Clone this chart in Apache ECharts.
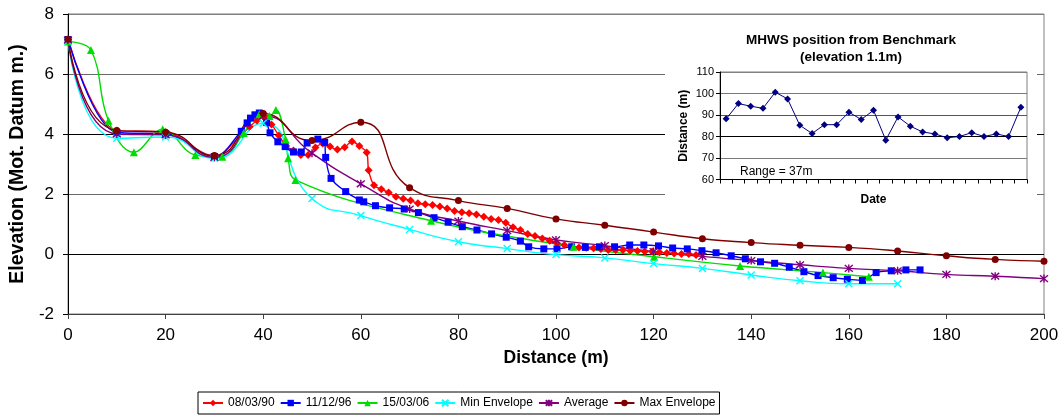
<!DOCTYPE html>
<html><head><meta charset="utf-8">
<script src="https://cdn.jsdelivr.net/npm/echarts@6/dist/echarts.min.js"></script>
<style>html,body{margin:0;padding:0;background:#fff}#c{width:1064px;height:419px}</style>
</head><body><div id="c"></div>
<script>
// ---- main chart data (distance m, elevation m) ----
const xTicks = [0, 20, 40, 60, 80, 100, 120, 140, 160, 180, 200];
const yTicks = [-2, 0, 2, 4, 6, 8];
const seriesNames = ['08/03/90', '11/12/96', '15/03/06', 'Min Envelope', 'Average', 'Max Envelope'];

const profile900803 = [[0,7.15],[10,4.12],[20,4.06],[30,3.27],[35.7,4.0],[37.2,4.24],[38.7,4.45],[40.2,4.55],[41.7,4.32],[43.2,3.95],[44.7,3.6],[46.2,3.45],[47.7,3.3],[49.2,3.3],[50.7,3.55],[52.2,3.68],[53.7,3.58],[55.2,3.48],[56.7,3.56],[58.2,3.75],[59.7,3.6],[61.2,3.38],[61.6,2.79],[62.7,2.29],[64.2,2.16],[65.7,2.05],[67.2,1.91],[68.7,1.84],[70.2,1.78],[71.7,1.69],[73.2,1.66],[74.7,1.63],[76.2,1.58],[77.7,1.52],[79.2,1.43],[80.7,1.39],[82.2,1.36],[83.7,1.32],[85.2,1.24],[86.7,1.17],[88.2,1.13],[89.7,1.04],[91.2,0.89],[92.7,0.8],[94.2,0.67],[95.7,0.6],[97.2,0.52],[98.7,0.44],[100.2,0.36],[101.7,0.3],[103.2,0.24],[104.7,0.22],[106.2,0.21],[107.7,0.19],[109.2,0.17],[110.7,0.13],[112.2,0.13],[113.7,0.13],[115.2,0.11],[116.7,0.10],[118.2,0.08],[119.7,0.08],[121.2,0.06],[122.7,0.03],[124.2,0.02],[125.7,0.0],[127.2,0.0],[128.7,-0.03]];

const profile961211 = [[0,7.15],[10,4.05],[20,4.0],[30,3.25],[35.5,4.09],[36.7,4.37],[37.4,4.53],[38.3,4.64],[39.2,4.7],[40.7,4.38],[41.4,4.04],[43.0,3.74],[44.5,3.58],[46.2,3.4],[47.8,3.4],[49.0,3.7],[51.2,3.83],[52.6,3.72],[52.8,3.22],[53.9,2.52],[56.9,2.08],[59.7,1.8],[60.6,1.74],[63.0,1.61],[65.9,1.54],[68.9,1.5],[71.8,1.38],[75.0,1.21],[77.9,1.06],[80.8,0.91],[83.8,0.8],[86.8,0.67],[89.8,0.56],[92.7,0.43],[94.4,0.24],[97.5,0.17],[100.2,0.17],[103.2,0.24],[106.0,0.22],[108.9,0.24],[112.0,0.24],[115.1,0.3],[118.0,0.3],[121.0,0.27],[123.9,0.2],[126.9,0.17],[129.9,0.11],[132.8,0.04],[135.9,-0.06],[138.8,-0.16],[141.9,-0.26],[144.8,-0.31],[147.8,-0.44],[150.8,-0.59],[153.7,-0.72],[156.8,-0.79],[159.7,-0.84],[162.8,-0.88],[165.6,-0.62],[168.7,-0.56],[171.7,-0.53],[174.6,-0.53]];

const profile060315 = [[0,7.08],[4.7,6.8],[8.3,4.44],[13.5,3.39],[19.4,4.16],[26.1,3.3],[31.6,3.24],[36.0,4.03],[39.2,4.66],[41.3,4.6],[42.6,4.8],[44.6,3.82],[45.1,3.19],[46.6,2.47],[74.4,1.11],[103.6,0.24],[120.1,-0.09],[137.7,-0.4],[154.7,-0.62],[164.1,-0.76]];

const envelopeX = [0,10,20,30,40,50,60,70,80,90,100,110,120,130,140,150,160,170,180,190,200];
const minEnvelope = [7.1,3.86,3.9,3.19,4.36,1.85,1.28,0.82,0.41,0.18,-0.02,-0.13,-0.32,-0.48,-0.7,-0.89,-0.99,-0.99];
const averageProfile = [7.13,4.0,3.97,3.22,4.6,3.36,2.34,1.5,1.1,0.78,0.47,0.28,0.08,-0.08,-0.22,-0.36,-0.48,-0.56,-0.68,-0.74,-0.82];
const maxEnvelope = [7.16,4.12,4.06,3.28,4.68,3.78,4.39,2.21,1.78,1.52,1.17,0.96,0.73,0.51,0.38,0.29,0.22,0.10,-0.06,-0.18,-0.24];

// ---- inset data: MHWS position from benchmark ----
const mhwsSurveys = ['S1','S2','S3','S4','S5','S6','S7','S8','S9','S10','S11','S12','S13','S14','S15','S16','S17','S18','S19','S20','S21','S22','S23','S24','S25'];
const mhwsDistance = [88.2,95.3,94.1,93.1,100.6,97.5,85.2,81.4,85.5,85.5,91.3,87.9,92.2,78.3,89.1,84.8,82.1,81.2,79.4,80.0,81.8,80.0,81.2,80.0,93.6];
const insetTicks = [60, 70, 80, 90, 100, 110];

const zipXY = (xs, ys) => ys.map((y, i) => [xs[i], y]);

const FONT = 'Liberation Sans, Arial, sans-serif';
const crossPath = 'path://M0,0L10,10M10,0L0,10';
const starPath = 'path://M0,0L10,10M10,0L0,10M5,-1L5,11';

function lineSeries(name, data, color, symbol, size, smooth, extra) {
  return Object.assign({
    name, type: 'line', data, xAxisIndex: 0, yAxisIndex: 0,
    smooth, color,
    symbol, symbolSize: size,
    lineStyle: { color, width: 1.4 },
    itemStyle: { color, borderColor: color, borderWidth: 0 },
    emphasis: { disabled: true }
  }, extra || {});
}

const chart = echarts.init(document.getElementById('c'), null, { renderer: 'canvas' });
chart.setOption({
  animation: false,
  backgroundColor: '#fff',
  grid: [
    { left: 66, top: 14, right: 20, bottom: 105, show: true, borderColor: '#808080', borderWidth: 1, z: 0 },
    { left: 720, top: 72, width: 307, height: 107.5, show: true, borderColor: '#808080', borderWidth: 1, z: 10 }
  ],
  xAxis: [
    { type: 'value', gridIndex: 0, min: xTicks[0], max: xTicks[xTicks.length - 1], interval: xTicks[1] - xTicks[0],
      name: 'Distance (m)', nameLocation: 'middle', nameGap: 32,
      nameTextStyle: { fontFamily: FONT, fontSize: 17.5, fontWeight: 'bold', color: '#000' },
      axisLine: { show: true, onZero: false, lineStyle: { color: '#404040', width: 1 } },
      axisTick: { show: true, length: 5, lineStyle: { color: '#404040' } },
      axisLabel: { fontFamily: FONT, fontSize: 17, color: '#000', margin: 13 },
      splitLine: { show: false } },
    { type: 'category', gridIndex: 1, data: mhwsSurveys, boundaryGap: true, z: 10,
      name: 'Date', nameLocation: 'middle', nameGap: 14,
      nameTextStyle: { fontFamily: FONT, fontSize: 12, fontWeight: 'bold', color: '#000' },
      axisLine: { show: true, lineStyle: { color: '#000', width: 1 } },
      axisTick: { show: true, length: 4, interval: 0, lineStyle: { color: '#000' } },
      axisLabel: { show: false },
      splitLine: { show: false } }
  ],
  yAxis: [
    { type: 'value', gridIndex: 0, min: yTicks[0], max: yTicks[yTicks.length - 1], interval: yTicks[1] - yTicks[0],
      name: 'Elevation (Mot. Datum m.)', nameLocation: 'middle', nameGap: 36,
      nameTextStyle: { fontFamily: FONT, fontSize: 19.5, fontWeight: 'bold', color: '#000' },
      axisLine: { show: true, onZero: false, lineStyle: { color: '#000', width: 1 } },
      axisTick: { show: true, length: 5, lineStyle: { color: '#000' } },
      axisLabel: { fontFamily: FONT, fontSize: 17, color: '#000', margin: 14 },
      splitLine: { show: true, lineStyle: { color: ['#404040', '#000', '#6a6a6a', '#000', '#6a6a6a', '#808080'], width: 1 } } },
    { type: 'value', gridIndex: 1, min: insetTicks[0], max: insetTicks[insetTicks.length - 1], interval: insetTicks[1] - insetTicks[0], z: 10,
      name: 'Distance (m)', nameLocation: 'middle', nameGap: 30,
      nameTextStyle: { fontFamily: FONT, fontSize: 12, fontWeight: 'bold', color: '#000' },
      axisLine: { show: true, lineStyle: { color: '#000', width: 1 } },
      axisTick: { show: true, length: 4, lineStyle: { color: '#000' } },
      axisLabel: { fontFamily: FONT, fontSize: 11, color: '#000', margin: 6 },
      splitLine: { show: true, lineStyle: { color: ['#000', '#7a7a7a', '#000', '#555', '#7a7a7a', '#808080'], width: 1 } } }
  ],
  legend: {
    left: 198, top: 392, orient: 'horizontal',
    padding: [5, 4, 5, 4], itemGap: 5, itemWidth: 20, itemHeight: 8,
    borderColor: '#000', borderWidth: 1,
    textStyle: { fontFamily: FONT, fontSize: 12, color: '#000' },
    data: seriesNames
  },
  graphic: [
    { type: 'rect', z: 5, silent: true, shape: { x: 665, y: 22, width: 372, height: 190 }, style: { fill: '#fff' } },
    { type: 'text', z: 20, silent: true, x: 851, y: 40,
      style: { text: 'MHWS position from Benchmark', fontFamily: FONT, fontSize: 13.5, fontWeight: 'bold', fill: '#000', textAlign: 'center', textVerticalAlign: 'middle' } },
    { type: 'text', z: 20, silent: true, x: 851, y: 57,
      style: { text: '(elevation 1.1m)', fontFamily: FONT, fontSize: 13.5, fontWeight: 'bold', fill: '#000', textAlign: 'center', textVerticalAlign: 'middle' } },
    { type: 'text', z: 20, silent: true, x: 740, y: 172,
      style: { text: 'Range = 37m', fontFamily: FONT, fontSize: 12, fill: '#000', textAlign: 'left', textVerticalAlign: 'middle' } }
  ],
  series: [
    lineSeries(seriesNames[0], profile900803, '#FF0000', 'diamond', 8, 0.35),
    lineSeries(seriesNames[1], profile961211, '#0000FF', 'rect', 7, 0.35),
    lineSeries(seriesNames[2], profile060315, '#00DD00', 'triangle', 8, 0.4),
    lineSeries(seriesNames[3], zipXY(envelopeX, minEnvelope), '#00FFFF', crossPath, 7, 0.55, { itemStyle: { color: '#00FFFF', borderColor: '#00FFFF', borderWidth: 1.4 } }),
    lineSeries(seriesNames[4], zipXY(envelopeX, averageProfile), '#800080', starPath, 8, 0.55, { itemStyle: { color: '#800080', borderColor: '#800080', borderWidth: 1.4 } }),
    lineSeries(seriesNames[5], zipXY(envelopeX, maxEnvelope), '#800000', 'circle', 7, 0.55),
    { name: 'MHWS', type: 'line', xAxisIndex: 1, yAxisIndex: 1, data: mhwsDistance, z: 15,
      color: '#000080', symbol: 'diamond', symbolSize: 7,
      lineStyle: { color: '#000080', width: 1 }, itemStyle: { color: '#000080' },
      emphasis: { disabled: true } }
  ]
});
</script>
</body></html>
